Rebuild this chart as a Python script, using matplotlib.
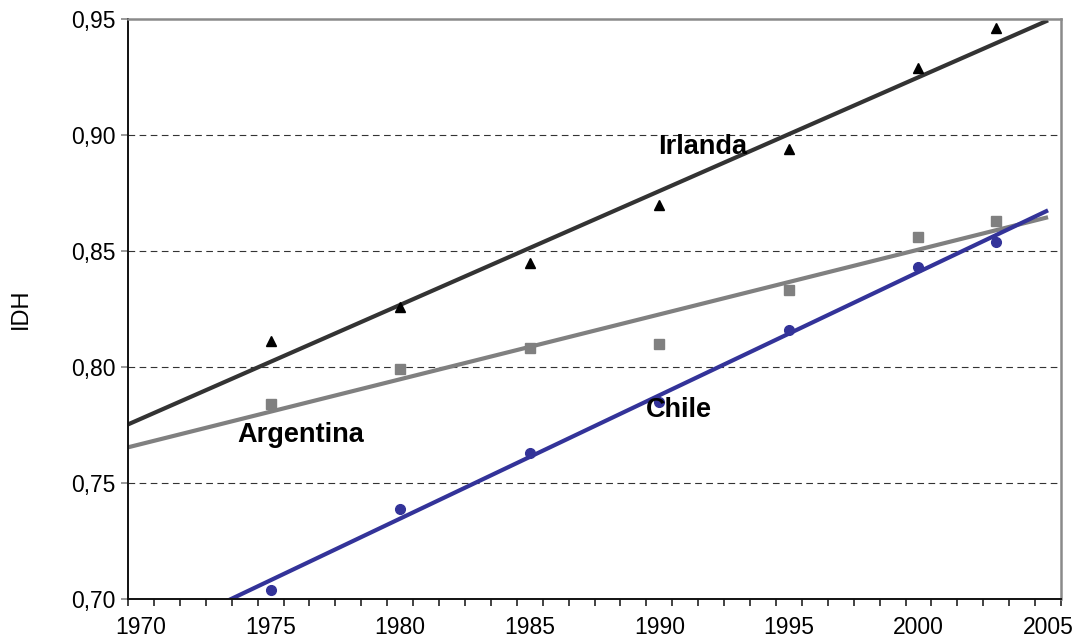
import numpy as np
import matplotlib
matplotlib.use("Agg")
import matplotlib.pyplot as plt
from matplotlib.ticker import FuncFormatter, FixedLocator

plt.rcParams['font.family'] = ['Liberation Sans', 'DejaVu Sans']

years = [1975, 1980, 1985, 1990, 1995, 2000, 2003]
irlanda = [0.811, 0.826, 0.845, 0.870, 0.894, 0.929, 0.946]
argentina = [0.784, 0.799, 0.808, 0.810, 0.833, 0.856, 0.863]
chile = [0.704, 0.739, 0.763, 0.785, 0.816, 0.843, 0.854]
x_labels = [1970, 1975, 1980, 1985, 1990, 1995, 2000, 2005]
y_ticks = [0.70, 0.75, 0.80, 0.85, 0.90, 0.95]

fig = plt.figure(figsize=(10.8, 6.43), dpi=100)
ax = fig.add_axes([128/1080, 1-599/643, (1061-128)/1080, (599-19)/643])

x_line = np.array([1969.5, 2005.0])
series = [
    (irlanda, '#333333', '#000000', '^', 6.5),
    (argentina, '#808080', '#808080', 's', 6.5),
    (chile, '#333399', '#333399', 'o', 7),
]
for vals, lc, mc, mk, ms in series:
    a, b = np.polyfit(years, vals, 1)
    ax.plot(x_line, a*x_line + b, color=lc, lw=3.0, solid_capstyle='butt', zorder=2)
    ax.plot(years, vals, linestyle='none', marker=mk, color=mc, ms=ms, zorder=3)

ax.set_xlim(1969.5, 2005.5)
ax.set_ylim(0.70, 0.95)
ax.set_yticks(y_ticks)
ax.yaxis.set_major_formatter(FuncFormatter(lambda v, p: f"{v:.2f}".replace('.', ',')))
ax.xaxis.set_major_locator(FixedLocator(x_labels))
ax.xaxis.set_minor_locator(FixedLocator(np.arange(1969.5, 2006, 1.0)))
ax.tick_params(axis='x', which='major', length=0, pad=12.5, labelsize=16.5)
ax.tick_params(axis='x', which='minor', length=5, width=1.2, direction='out', color='#222222')
ax.tick_params(axis='y', which='major', length=5, width=1.2, direction='out', color='#888888', labelsize=16.5, pad=4)

for yv in y_ticks[1:-1]:
    ax.axhline(yv, color='#333333', lw=0.8, ls=(0, (6, 4)), zorder=1)

for s in ['left', 'bottom']:
    ax.spines[s].set_color('#111111')
    ax.spines[s].set_linewidth(1.4)
for s in ['top', 'right']:
    ax.spines[s].set_color('#8a8a8a')
    ax.spines[s].set_linewidth(1.8)

ax.set_ylabel('IDH', fontsize=17, labelpad=28)

ax.text(1989.95, 0.895, 'Irlanda', fontsize=19.5, fontweight='bold', ha='left', va='center')
ax.text(1973.7, 0.7707, 'Argentina', fontsize=19.5, fontweight='bold', ha='left', va='center')
ax.text(1989.5, 0.7815, 'Chile', fontsize=19.5, fontweight='bold', ha='left', va='center')

fig.savefig('out.png', dpi=100)
